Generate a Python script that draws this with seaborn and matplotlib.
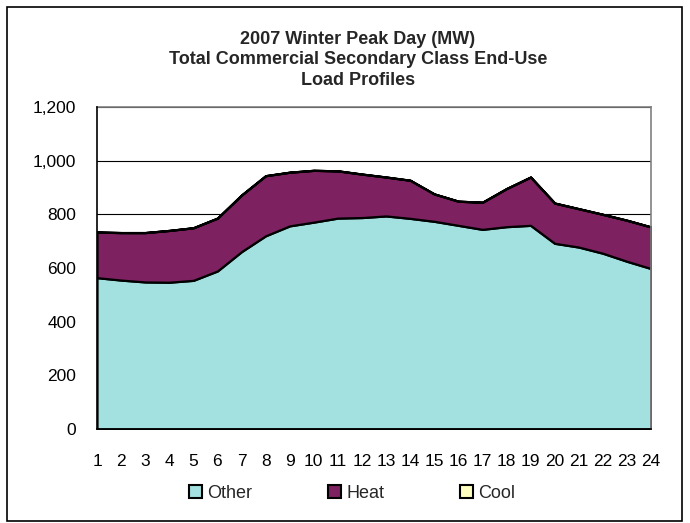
import numpy as np
import pandas as pd
import matplotlib
matplotlib.use('Agg')
import matplotlib.pyplot as plt
import seaborn as sns
from matplotlib.patches import Patch, Rectangle
from matplotlib.ticker import FuncFormatter

sns.set_style('white')
plt.rcParams['font.family'] = ['Liberation Sans', 'DejaVu Sans']

# hourly values (MW)
hours = list(range(1, 25))
other = [564, 555, 548, 547, 554, 589, 661, 720, 757, 771, 786, 788,
         794, 785, 774, 759, 744, 754, 759, 692, 678, 655, 625, 598]
heat = [170, 177, 184, 193, 196, 197, 211, 224, 200, 193, 176, 162,
        145, 142, 102, 90, 101, 142, 180, 150, 143, 145, 153, 155]
cool = [0] * 24

series_names = ['Other', 'Heat', 'Cool']
series_colors = ['#A3E0E0', '#7E2160', '#FFFFC0']

df = pd.DataFrame({'hour': hours, 'Other': other, 'Heat': heat, 'Cool': cool})

fig = plt.figure(figsize=(6.9, 5.23), dpi=100)
ax = fig.add_axes([97 / 690, 94 / 523, 554 / 690, 322 / 523])

ax.set_axisbelow(True)
ax.grid(axis='y', color='black', linewidth=0.8)
ax.stackplot(df['hour'], df['Other'], df['Heat'], df['Cool'],
             colors=series_colors, edgecolor='black', linewidth=1.6, zorder=2)

ax.set_xlim(1, 24)
ax.set_ylim(0, 1200)
ax.set_xticks(hours)
ax.set_yticks(range(0, 1201, 200))
ax.yaxis.set_major_formatter(FuncFormatter(lambda v, p: f'{int(v):,}'))
ax.tick_params(axis='both', direction='out', length=4, width=1, colors='black',
               labelsize=12.5)
ax.tick_params(axis='y', pad=11)
ax.tick_params(axis='x', pad=14)

for side in ['left', 'bottom']:
    ax.spines[side].set_color('black')
    ax.spines[side].set_linewidth(1.2)
    ax.spines[side].set_zorder(3)
for side in ['top', 'right']:
    ax.spines[side].set_color('#808080')
    ax.spines[side].set_linewidth(1.2)

fig.text(358 / 690, 1 - 60 / 523,
         '2007 Winter Peak Day (MW)\nTotal Commercial Secondary Class End-Use\nLoad Profiles',
         ha='center', va='center', fontsize=13, fontweight='bold', linespacing=1.27)

handles = [Patch(facecolor=c, edgecolor='black', linewidth=1.5) for c in series_colors]
fig.legend(handles, series_names, loc='center', ncol=3,
           bbox_to_anchor=(352 / 690, 30 / 523), frameon=False, fontsize=13,
           handlelength=0.7, handleheight=0.7, handletextpad=0.3,
           columnspacing=4.2, borderaxespad=0)

fig.patches.append(Rectangle((7 / 690, 2 / 523), 675 / 690, 514 / 523,
                             transform=fig.transFigure, fill=False,
                             edgecolor='black', linewidth=1.2))

fig.savefig('out.png', dpi=100)
